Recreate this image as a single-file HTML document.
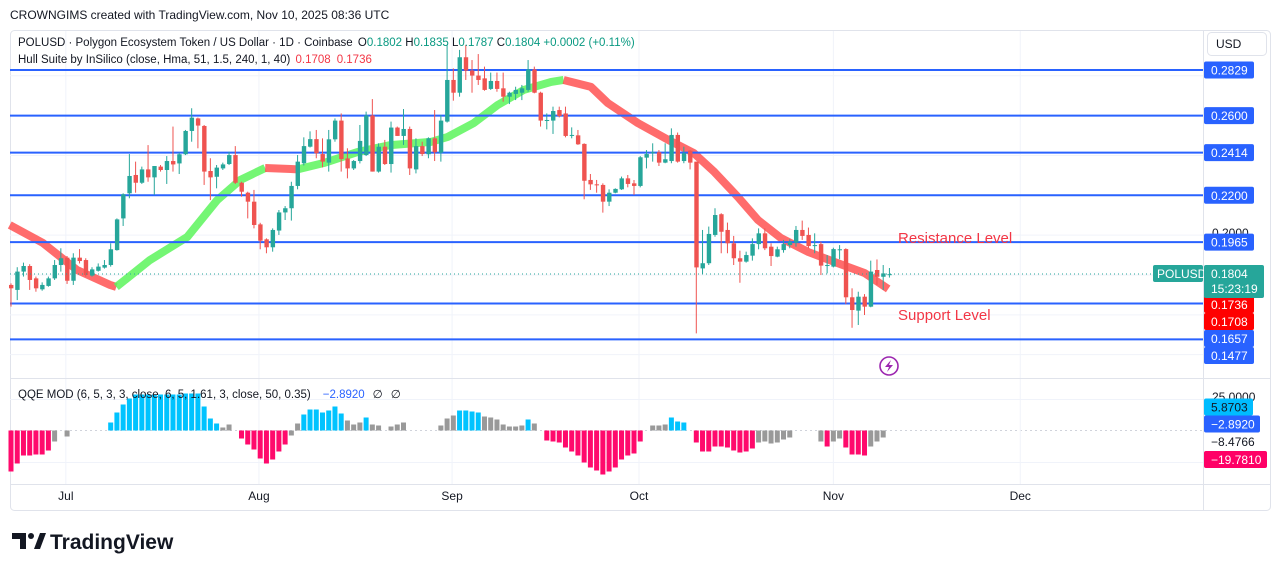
<!DOCTYPE html>
<html><head><meta charset="utf-8"><style>
body{margin:0;width:1281px;height:571px;background:#fff;overflow:hidden;font-family:"Liberation Sans",sans-serif;}
svg text{font-family:"Liberation Sans",sans-serif;}
</style></head><body>
<svg id="chart" width="1281" height="571" xmlns="http://www.w3.org/2000/svg">
<text x="10" y="19" font-size="12" fill="#131722">CROWNGIMS created with TradingView.com, Nov 10, 2025 08:36 UTC</text>
<rect x="10.5" y="30.5" width="1260" height="480" rx="4" fill="none" stroke="#e0e3eb"/>
<g id="grid"></g>
<g id="hull"></g>
<g id="levels"></g>
<g id="candles"></g>
<g id="qqe"></g>
<line x1="10" y1="378.5" x2="1270" y2="378.5" stroke="#e0e3eb"/>
<line x1="10" y1="484.5" x2="1270" y2="484.5" stroke="#e0e3eb"/>
<line x1="1203.5" y1="30" x2="1203.5" y2="510" stroke="#e0e3eb"/>
<line x1="10" y1="274" x2="1203" y2="274" stroke="#26a69a" stroke-dasharray="1 3"/>
<g font-size="11.5">
<text x="18" y="46" fill="#131722">POLUSD · Polygon Ecosystem Token / US Dollar · 1D · Coinbase <tspan dx="2">O</tspan><tspan fill="#089981">0.1802</tspan> <tspan>H</tspan><tspan fill="#089981">0.1835</tspan> <tspan>L</tspan><tspan fill="#089981">0.1787</tspan> <tspan>C</tspan><tspan fill="#089981">0.1804 +0.0002 (+0.11%)</tspan></text>
<text x="18" y="63" fill="#131722">Hull Suite by InSilico (close, Hma, 51, 1.5, 240, 1, 40) <tspan fill="#f23645" dx="2">0.1708</tspan><tspan fill="#f23645" dx="6">0.1736</tspan></text>
<text x="18" y="398" fill="#131722">QQE MOD (6, 5, 3, 3, close, 6, 5, 1.61, 3, close, 50, 0.35)<tspan fill="#2962ff" dx="12">−2.8920</tspan><tspan dx="8">∅</tspan><tspan dx="8">∅</tspan></text>
</g>
<text x="898" y="243" font-size="15" fill="#f23645">Resistance Level</text>
<text x="898" y="320" font-size="15" fill="#f23645">Support Level</text>
<g><circle cx="889" cy="366" r="9" fill="none" stroke="#9c27b0" stroke-width="1.6"/><path d="M891 360 L885 367 L889 367 L887 372 L893 365 L889 365 Z" fill="#9c27b0"/></g>
<g><rect x="1207.5" y="32.5" width="59" height="23" rx="4" fill="#fff" stroke="#e0e3eb"/><text x="1216" y="48" font-size="12" fill="#131722">USD</text></g>
<g id="axis" font-size="12"></g>
<g>
<path d="M12 533 h14 v16 h-6 v-10 h-8 z" fill="#131722"/><circle cx="31" cy="536" r="3" fill="#131722"/><path d="M34 549 l6 -16 h6 l-6 16 z" fill="#131722"/>
<text x="50" y="549" font-size="21" font-weight="bold" fill="#131722">TradingView</text></g>
</svg>
<script>
const O=[.1750,.1725,.1817,.1845,.1783,.1728,.1745,.1783,.1850,.1887,.1771,.1887,.1875,.1797,.1821,.1837,.1850,.1925,.2084,.2210,.2302,.2263,.2330,.2290,.2344,.2327,.2372,.2360,.2406,.2523,.2586,.2548,.2322,.2293,.2335,.2357,.2402,.2263,.2213,.2168,.2054,.1979,.1939,.2023,.2114,.2135,.2247,.2361,.2444,.2482,.2407,.2364,.2481,.2575,.2385,.2335,.2372,.2402,.2601,.2319,.2444,.2357,.2540,.2498,.2533,.2330,.2447,.2406,.2486,.2414,.2570,.2779,.2715,.2893,.2826,.2801,.2787,.2734,.2774,.2737,.2695,.2709,.2715,.2729,.2832,.2715,.2578,.2575,.2628,.2611,.2501,.2501,.2458,.2277,.2255,.2252,.2168,.2213,.2230,.2285,.2260,.2247,.2389,.2411,.2416,.2364,.2372,.2503,.2372,.2424,.2369,.1833,.1859,.2001,.2105,.2026,.1959,.1884,.1867,.1897,.1955,.2009,.1942,.1892,.1925,.1950,.1962,.2026,.2001,.1950,.1955,.1850,.1842,.1929,.1930,.1688,.1621,.1691,.1641,.1825,.1791,.1802];
const C=[.1733,.1817,.1845,.1775,.1733,.1750,.1783,.1850,.1884,.1771,.1887,.1870,.1800,.1828,.1842,.1850,.1929,.2079,.2205,.2297,.2263,.2330,.2290,.2347,.2327,.2372,.2355,.2406,.2523,.2590,.2550,.2319,.2290,.2339,.2355,.2402,.2263,.2218,.2168,.2051,.1972,.1939,.2026,.2114,.2135,.2247,.2369,.2447,.2482,.2411,.2369,.2481,.2575,.2382,.2335,.2372,.2473,.2601,.2319,.2444,.2357,.2540,.2498,.2533,.2335,.2447,.2407,.2486,.2416,.2575,.2779,.2715,.2893,.2826,.2801,.2779,.2729,.2774,.2734,.2695,.2715,.2729,.2737,.2832,.2715,.2575,.2578,.2623,.2598,.2498,.2503,.2456,.2273,.2255,.2253,.2168,.2213,.2232,.2285,.2257,.2247,.2391,.2407,.2416,.2364,.2381,.2503,.2369,.2411,.2364,.1838,.1859,.2006,.2101,.2017,.1959,.1884,.1867,.1900,.1955,.2009,.1934,.1895,.1929,.1955,.1967,.2026,.1996,.1945,.1950,.1847,.1850,.1930,.1929,.1688,.1624,.1691,.1641,.1817,.1791,.1808,.1804];
const H=[.1758,.1839,.1862,.1854,.1792,.1763,.1792,.1875,.1934,.1895,.1909,.1930,.1884,.1839,.1858,.1875,.1959,.2084,.2210,.2407,.2369,.2344,.2452,.2347,.2352,.2397,.2545,.2414,.2528,.2637,.2590,.2553,.2386,.2352,.2364,.2419,.2447,.2268,.2218,.2227,.2062,.1984,.2034,.2126,.2146,.2268,.2402,.2491,.2521,.2528,.2486,.2528,.2586,.2611,.2436,.2377,.2553,.2620,.2683,.2461,.2478,.2570,.2545,.2633,.2545,.2486,.2469,.2491,.2628,.2603,.2954,.2837,.2930,.2955,.2879,.2909,.2846,.2816,.2816,.2816,.2720,.2745,.2754,.2879,.2846,.2720,.2611,.2645,.2645,.2645,.2541,.2528,.2461,.2307,.2277,.2260,.2230,.2235,.2294,.2302,.2277,.2397,.2427,.2461,.2427,.2461,.2536,.2515,.2444,.2427,.2369,.2026,.2043,.2135,.2110,.2063,.1996,.1922,.1917,.1984,.2034,.2034,.1959,.1942,.1976,.1979,.2046,.2073,.2038,.2009,.1967,.1900,.1937,.1950,.1934,.1733,.1716,.1704,.1872,.1878,.1850,.1835];
const L=[.1641,.1674,.1792,.1725,.1716,.1721,.1741,.1775,.1817,.1755,.1750,.1858,.1792,.1792,.1817,.1832,.1842,.1922,.2046,.2185,.2213,.2257,.2268,.2202,.2319,.2257,.2319,.2307,.2402,.2469,.2436,.2252,.2176,.2235,.2327,.2352,.2257,.2193,.2084,.2034,.1929,.1909,.1917,.2001,.2076,.2073,.2230,.2350,.2440,.2386,.2340,.2319,.2469,.2319,.2285,.2327,.2360,.2397,.2319,.2314,.2352,.2314,.2498,.2453,.2302,.2310,.2397,.2386,.2372,.2369,.2565,.2675,.2695,.2779,.2715,.2754,.2725,.2729,.2720,.2670,.2658,.2678,.2678,.2720,.2712,.2545,.2531,.2508,.2591,.2491,.2486,.2453,.2180,.2227,.2213,.2113,.2146,.2210,.2227,.2240,.2202,.2240,.2335,.2369,.2347,.2361,.2361,.2364,.2361,.2330,.1507,.1805,.1850,.1992,.1909,.1909,.1850,.1761,.1862,.1872,.1929,.1925,.1845,.1889,.1912,.1934,.1942,.1976,.1934,.1909,.1800,.1808,.1838,.1879,.1654,.1535,.1549,.1599,.1638,.1750,.1725,.1787];
const hullIdx=[-0.2,5.1,10.6,15.9,16.9,22.3,28.3,33.1,36.8,40.8,44.9,46.0,50.2,55.6,60.9,67.4,70.1,74.3,78.1,82.3,86.7,88.7,93.1,95.8,100.6,105.5,109.6,112.9,116.7,119.9,123.6,128,132.2,137,140.8];
const hullVal=[.2051,.1961,.1825,.1750,.1740,.1875,.1991,.2176,.2277,.2337,.2332,.2330,.2362,.2417,.2452,.2468,.2493,.2563,.2653,.2729,.2769,.2779,.2744,.2663,.2563,.2478,.2412,.2317,.2191,.2076,.1985,.1915,.1865,.1810,.1730];
const hullCol=['r','r','r','r','g','g','g','g','g','r','r','g','g','g','g','g','g','g','g','g','g','r','r','r','r','r','r','r','r','r','r','r','r','r','r'];
const levelPrices=[0.2829,0.2600,0.2414,0.2200,0.1965,0.1657,0.1477];
const qqeVals=[-41,-33,-25,-25,-24,-24,-20,-11,0,-6,0,0,0,0,0,0,8,18,26,32,36,36,36,36,36,36,36,36,37,37,37,24,12,7,3,6,0,-8,-14,-19,-28,-33,-29,-21,-14,-5,7,16,21,21,18,20,24,17,10,6,8,13,6,5,0,4,6,8,0,0,0,0,0,5,12,15,20,20,19,18,14,13,11,6,4,4,5,11,7,0,-10,-11,-12,-17,-21,-25,-32,-37,-40,-44,-41,-37,-29,-25,-23,-11,0,5,5,6,13,9,8,0,-12,-21,-21,-16,-16,-17,-20,-22,-21,-18,-12,-11,-13,-12,-9,-7,0,0,0,0,-11,-16,-11,-8,-17,-24,-24,-25,-16,-11,-7,0];
const qqeCol=['p','p','p','p','p','p','p','g','g','g','g','g','g','g','g','g','b','b','b','b','b','b','b','b','b','b','b','b','b','b','b','b','b','b','g','g','g','p','p','p','p','p','p','p','p','g','g','b','b','b','b','b','b','b','g','g','g','b','g','g','g','g','g','g','g','g','g','g','g','g','g','g','b','b','b','b','g','g','g','g','g','g','g','b','g','g','p','p','p','p','p','p','p','p','p','p','p','p','p','p','p','p','g','g','g','g','b','b','b','g','p','p','p','p','p','p','p','p','p','p','g','g','g','g','g','g','g','g','g','g','g','p','g','g','p','p','p','p','g','g','g','g'];
const gridPrices=[0.28,0.26,0.24,0.22,0.20,0.18,0.16,0.14];
const monthLabels=['Jul','Aug','Sep','Oct','Nov','Dec'];
const monthIdx=[8.8,39.8,70.8,100.8,132,162];
const NS='http://www.w3.org/2000/svg';
const xI=i=>11+i*6.23;
const yP=p=>70+(0.2829-p)*1992;
const yQ=v=>430.5-v;
function mk(tag,attrs,parent){const e=document.createElementNS(NS,tag);for(const k in attrs)e.setAttribute(k,attrs[k]);parent.appendChild(e);return e;}
const grid=document.getElementById('grid');
gridPrices.forEach(p=>{const l=mk('line',{x1:10,x2:1203,y1:yP(p),y2:yP(p),stroke:'#f0f3fa'},grid);

});
[399.5,462.5].forEach(y=>{const l=mk('line',{x1:10,x2:1203,y1:y,y2:y,stroke:'#f0f3fa'},grid);

});
const zl=mk('line',{x1:10,x2:1203,y1:430.5,y2:430.5,stroke:'#d0d3db','stroke-dasharray':'2 3'},grid);


const axis=document.getElementById('axis');
monthIdx.forEach((m,k)=>{const x=xI(m);
const l=mk('line',{x1:x,x2:x,y1:31,y2:484,stroke:'#f0f3fa'},grid);


const t=mk('text',{x:x,y:500,'text-anchor':'middle',fill:'#131722'},axis);t.textContent=monthLabels[k];

});
// hull band: one polyline per colour run
const hull=document.getElementById('hull');
let run=[0];
function flush(endK){
 const pts=[];for(let k=run[0];k<=endK;k++)pts.push(xI(hullIdx[k])+','+yP(hullVal[k]));
 const c=hullCol[run[0]]==='r'?'#ff5252':'#5cf55c';
 const pl=mk('polyline',{points:pts.join(' '),fill:'none',stroke:c,'stroke-width':8,'stroke-linejoin':'round','stroke-linecap':'butt','stroke-opacity':0.85},hull);
 
 
}
for(let k=1;k<hullIdx.length;k++){
 if(hullCol[k]!==hullCol[run[0]]){flush(k);run=[k];}
}
flush(hullIdx.length-1);
// levels
const lv=document.getElementById('levels');
levelPrices.forEach(p=>{const l=mk('line',{x1:10,x2:1203,y1:yP(p),y2:yP(p),stroke:'#2962ff','stroke-width':2},lv);

});
// candles
const cg=document.getElementById('candles');
for(let i=0;i<C.length;i++){
 const up=C[i]>=O[i];const col=up?'#26a69a':'#ef5350';const x=xI(i);
 const w=mk('line',{x1:x,x2:x,y1:yP(H[i]),y2:yP(L[i]),stroke:col,'stroke-width':1},cg);
 
 
 const t=yP(Math.max(O[i],C[i])),b=yP(Math.min(O[i],C[i]));
 const r=mk('rect',{x:x-2,y:t,width:4.4,height:Math.max(1,b-t),fill:col},cg);
 
 
}
// qqe
const qg=document.getElementById('qqe');
const qc={p:'#ff0a6c',b:'#00c3ff',g:'#999999'};
for(let i=0;i<qqeVals.length;i++){const v=qqeVals[i];if(!v)continue;
 const y1=yQ(Math.max(v,0)),y2=yQ(Math.min(v,0));
 const r=mk('rect',{x:xI(i)-2.5,y:y1,width:5,height:y2-y1,fill:qc[qqeCol[i]]||'#999999'},qg);
 
 }
// axis labels
const boxes=[['0.2829',yP(0.2829),'#2962ff','#fff',50],['0.2600',yP(0.26),'#2962ff','#fff',50],['0.2414',yP(0.2414),'#2962ff','#fff',50],['0.2200',yP(0.22),'#2962ff','#fff',50],['0.1965',yP(0.1965),'#2962ff','#fff',50],
['0.1736',304.5,'#ff0000','#fff',50],['0.1708',321.5,'#ff0000','#fff',50],['0.1657',338.5,'#2962ff','#fff',50],['0.1477',355.5,'#2962ff','#fff',50],
['5.8703',407,'#00bcff','#131722',49],['−2.8920',424,'#2962ff','#fff',56],['−19.7810',459.5,'#ff0066','#fff',63]];
const a1=mk('text',{x:1212,y:237,fill:'#131722'},axis);a1.textContent='0.2000';


const a2=mk('text',{x:1212,y:401,fill:'#131722'},axis);a2.textContent='25.0000';


boxes.forEach(b=>{const g=mk('g',{},axis);
 
 
 mk('rect',{x:1204,y:b[1]-8.5,width:b[4],height:17,rx:2,fill:b[2]},g);
 const t=mk('text',{x:1211,y:b[1]+4.5,fill:b[3]},g);t.textContent=b[0];});
const t3=mk('text',{x:1211,y:446,fill:'#131722'},axis);t3.textContent='−8.4766';


// last price tags
const lp=mk('g',{},axis);


mk('rect',{x:1153,y:265,width:50,height:17,rx:2,fill:'#26a69a'},lp);
const s1=mk('text',{x:1157,y:278,fill:'#fff'},lp);s1.textContent='POLUSD';
mk('rect',{x:1204,y:265,width:60,height:33,rx:2,fill:'#26a69a'},lp);
const s2=mk('text',{x:1211,y:278,fill:'#fff'},lp);s2.textContent='0.1804';
const s3=mk('text',{x:1211,y:293,fill:'#fff'},lp);s3.textContent='15:23:19';
</script>
</body></html>
